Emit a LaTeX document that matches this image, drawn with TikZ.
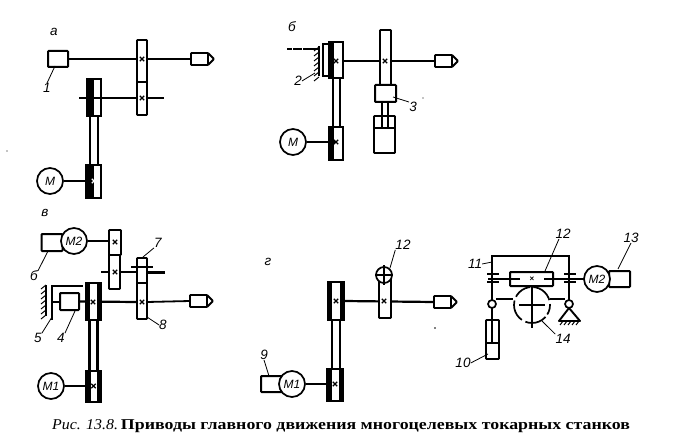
\documentclass[tikz,border=0pt]{standalone}
\usepackage{fontspec}
\setmainfont{Liberation Serif}
\newfontfamily\lblfont{Liberation Sans}
\usepackage{graphicx}
\tikzset{
  shaft/.style={line width=2.2pt,draw=black},
  gearbox/.style={line width=1.9pt,draw=black,fill=white,rounded corners=0.8pt},
  pulleyfill/.style={line width=1.9pt,draw=black,fill=white},
  belt/.style={line width=2pt,draw=black},
  lead/.style={line width=0.8pt,draw=black},
  lbl/.style={font=\lblfont\itshape\fontsize{13.5}{13.5}\selectfont,inner sep=0pt},
  motor/.style={circle,line width=1.7pt,draw=black,fill=white,minimum size=26pt,inner sep=0pt,font=\lblfont\itshape\fontsize{12}{12}\selectfont},
  bx/.style={rectangle,line width=2pt,draw=black,fill=white,rounded corners=0.8pt,inner sep=0pt},
  spindle/.pic={
    \draw[line width=1.9pt,fill=white,line join=round,rounded corners=0.7pt] (0,-6) -- (17,-6) -- (23,0) -- (17,6) -- (0,6) -- cycle;
    \draw[line width=1.2pt] (17,-6) -- (17,6);
  },
  crossm/.pic={
    \draw[line width=1.2pt] (-2.2,-2.2) -- (2.2,2.2) (-2.2,2.2) -- (2.2,-2.2);
  },
  hatchv/.pic={
    \foreach \q in {0,5,...,30} {\draw[line width=1pt] (0,\q) -- (-5,\q+4);}
  }
}
\begin{document}
\begin{tikzpicture}[x=1pt,y=-1pt]
\useasboundingbox (0,0) rectangle (679,446);
\fill[white] (0,0) rectangle (679,446);

% ---------- a ----------
\node[lbl] (la) at (54,32) {а};
\node[bx,minimum width=20pt,minimum height=16pt] (b1) at (58,59) {};
\coordinate (sa) at (191,59);
\draw[shaft] (b1.east) -- (sa);
\draw[shaft] (79,98) -- (164,98);
\draw[gearbox] (137,40) rectangle (147,82);
\draw[gearbox] (137,82) rectangle (147,115);
\draw[belt] (90,116) -- (90,165) (98,116) -- (98,165);
\draw[pulleyfill] (87,79) rectangle (101,116);
\fill (88,79) rectangle (94,116);
\draw[shaft] (79,98) -- (101,98);
\pic at (142,59) {crossm};
\pic at (142,98) {crossm};
\pic at (sa) {spindle};
\node[motor] (ma) at (50,181) {М};
\draw[pulleyfill] (86,165) rectangle (101,198);
\fill (87,165) rectangle (94,198);
\draw[shaft] (ma.east) -- (94,181);
\pic[white] at (94,181) {crossm};
\node[lbl] (l1) at (47,88) {1};
\draw[lead] (l1.north) -- (55,66);

% ---------- б ----------
\node[lbl] (lb) at (292,27) {б};
\draw[belt] (333,78) -- (333,127) (340,78) -- (340,127);
\draw[pulleyfill] (323,44) rectangle (329,76);
\draw[pulleyfill] (329,42) rectangle (343,78);
\fill (329,42) rectangle (334,78);
\draw[line width=1.9pt] (319,46) -- (319,76);
\pic at (319,47) {hatchv};
\draw[line width=1.2pt,dash pattern=on 5pt off 1pt on 9pt off 1pt on 12pt off 0pt] (287,49) -- (318,49);
\coordinate (sb) at (435,61);
\draw[shaft] (343,61) -- (sb);
\draw[gearbox] (380,30) rectangle (391,90);
\draw[line width=1.5pt] (382,102) -- (382,127) (388,102) -- (388,127);
\draw[gearbox] (374,116) rectangle (395,153);
\draw[line width=1.5pt] (382,102) -- (382,127) (388,102) -- (388,127);
\draw[line width=1.9pt] (374,128) -- (395,128);
\node[bx,minimum width=21pt,minimum height=17pt] (b3) at (385.5,93.5) {};
\pic at (385,61) {crossm};
\pic at (336,61) {crossm};
\pic at (sb) {spindle};
\draw[pulleyfill] (329,127) rectangle (343,160);
\fill (329,127) rectangle (334,160);
\node[motor] (mb) at (293,142) {М};
\draw[shaft] (mb.east) -- (336,142);
\pic at (336,142) {crossm};
\node[lbl] (l2) at (298,81) {2};
\draw[lead] (l2.east) -- (315,73);
\node[lbl] (l3) at (413,107) {3};
\draw[lead] (393,97) -- (l3.north west);
\fill (423,98) circle (0.7);

% ---------- в ----------
\node[lbl] (lv) at (45,213) {в};
\node[bx,minimum width=21pt,minimum height=17pt] (b6) at (52,242.5) {};
\node[motor] (m2) at (74,241) {М2};
\draw[shaft] (m2.east) -- (110,241);
\draw[shaft] (101,272) -- (137,272);
\draw[line width=3pt] (147,272) -- (165,272);
\draw[gearbox] (109,230) rectangle (121,255);
\draw[gearbox] (109,255) rectangle (120,289);
\draw[gearbox] (137,258) rectangle (147,319);
\draw[line width=1.4pt] (137,283) -- (147,283);
\draw[line width=1.4pt] (131,267) -- (153,267);
\pic at (115,242) {crossm};
\pic at (115,272) {crossm};
\pic at (142,302) {crossm};
\draw[line width=2pt] (46,285) -- (46,316);
\pic at (46,285) {hatchv};
\draw[line width=1.8pt] (52,320) -- (52,286) -- (83,286);
\draw[line width=1.9pt] (52,302) -- (60,302);
\node[bx,minimum width=19pt,minimum height=17pt] (b4) at (69.5,301.5) {};
\coordinate (sv) at (190,301);
\draw[shaft] (b4.east) -- (137,302);
\draw[line width=1.8pt] (147,302) -- (sv);
\draw[line width=3pt] (89,320) -- (89,371) (97,320) -- (97,371);
\draw[pulleyfill] (86,283) rectangle (101,320);
\fill (86,283) rectangle (90,320);
\fill (97,283) rectangle (101,320);
\pic at (93,302) {crossm};
\pic at (sv) {spindle};
\draw[pulleyfill] (86,371) rectangle (101,402);
\fill (86,371) rectangle (91,402);
\fill (97,371) rectangle (101,402);
\node[motor] (m1v) at (51,386) {М1};
\draw[shaft] (m1v.east) -- (91,386);
\pic at (93.5,386) {crossm};
\node[lbl] (l5) at (38,338) {5};
\draw[lead] (l5.north east) -- (52,317);
\node[lbl] (l4) at (61,338) {4};
\draw[lead] (l4.north east) -- (75,311);
\node[lbl] (l6) at (34,276) {б};
\draw[lead] (l6.north east) -- (48,251);
\node[lbl] (l7) at (158,243) {7};
\draw[lead] (143,257) -- (l7.south west);
\node[lbl] (l8) at (163,325) {8};
\draw[lead] (147,317) -- (l8.west);

% ---------- г ----------
\node[lbl] (lg) at (268,262) {г};
\draw[belt] (332,320) -- (332,370) (340,320) -- (340,370);
\draw[pulleyfill] (328,282) rectangle (344,320);
\fill (328,282) rectangle (332,320);
\fill (340,282) rectangle (344,320);
\coordinate (sg) at (434,302);
\draw[shaft] (344,301) -- (sg);
\draw[gearbox] (379,277) rectangle (391,318);
\pic at (336,301) {crossm};
\pic at (sg) {spindle};
\draw[line width=1.7pt,fill=white] (384,275) coordinate (c12) circle (8);
\draw[line width=1.3pt] (384,265) -- (384,285) (375,275) -- (393,275);
\pic at (384,301) {crossm};
\draw[pulleyfill] (327,369) rectangle (343,401);
\fill (327,369) rectangle (332,401);
\fill (339,369) rectangle (343,401);
\node[bx,minimum width=21pt,minimum height=16pt] (b9) at (271.5,384) {};
\node[motor] (m1g) at (292,384) {М1};
\draw[shaft] (m1g.east) -- (332,384);
\pic at (335,384) {crossm};
\node[lbl] (l12a) at (403,245) {12};
\draw[lead] (390,268) -- (l12a.south west);
\node[lbl] (l9) at (264,355) {9};
\draw[lead] (l9.south) -- (269,376);
\fill (435,328) circle (0.8);

% ---------- right ----------
\draw[line width=2pt] (492,300) -- (492,256) -- (569,256) -- (569,300);
\draw[line width=1.7pt,dash pattern=on 10pt off 3pt on 22pt off 4pt on 22pt off 4pt on 8pt off 0pt] (532,305) circle (18);
\draw[line width=1.5pt] (532,283) -- (532,328) (519,305) -- (545,305);
\draw[line width=1.5pt] (496,299) -- (513,299) (550,299) -- (565,299);
\draw[line width=1.7pt,fill=white] (492,304) coordinate (p1) circle (4);
\draw[line width=1.7pt,fill=white] (569,304) coordinate (p2) circle (4);
\draw[line width=1.9pt,fill=white,line join=round] (569,308) -- (559,321) -- (580,321) -- cycle;
\foreach \q in {560,564,...,576} {\draw[line width=1pt] (\q+3,321) -- (\q,325);}
\draw[line width=1.6pt] (492,308) -- (492,320);
\draw[gearbox] (486,320) rectangle (499,359);
\draw[line width=1.9pt] (486,343) -- (499,343);
\draw[line width=1.5pt] (492,320) -- (492,343);
\node[bx,minimum width=43pt,minimum height=14pt] (b12) at (531.5,279) {};
\draw[shaft] (488,279) -- (520,279) (544,279) -- (585,279);
\node[font=\lblfont\bfseries\fontsize{8}{8}\selectfont,inner sep=0pt] (x12) at (532,279) {×};
\draw[line width=2.4pt] (487,274) -- (499,274) (487,282) -- (499,282);
\draw[line width=2.4pt] (564,274) -- (576,274) (564,282) -- (576,282);
\node[bx,minimum width=21pt,minimum height=16pt] (b13) at (619.5,279) {};
\node[motor] (m2r) at (597,279) {М2};
\node[lbl] (l11) at (475,264) {11};
\draw[lead] (l11.east) -- (492,262);
\node[lbl] (l12b) at (563,234) {12};
\draw[lead] (l12b.south) ++(-4,0) -- (545,271);
\node[lbl] (l13) at (631,238) {13};
\draw[lead] (l13.south) -- (618,269);
\node[lbl] (l14) at (563,339) {14};
\draw[lead] (542,321) -- (l14.north west);
\node[lbl] (l10) at (463,363) {10};
\draw[lead] (l10.east) -- (488,354);

% ---------- caption ----------
\node[anchor=west,inner sep=0pt,font=\fontsize{15}{15}\selectfont] (cap) at (52,426.5) {\scalebox{1.06}[1]{\itshape Рис. 13.8.}\hspace{3pt}\scalebox{1.19}[1]{\bfseries Приводы главного движения многоцелевых токарных станков}};
\fill (7,151) circle (0.6);
\end{tikzpicture}
\end{document}
